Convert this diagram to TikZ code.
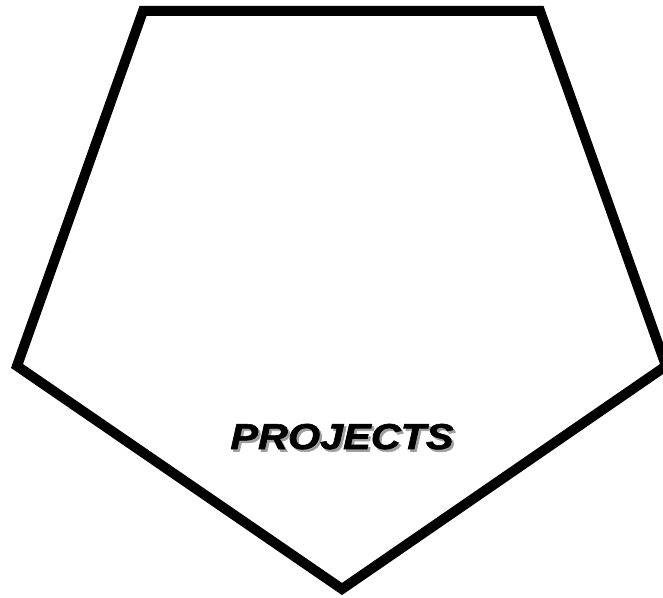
\documentclass[tikz,border=0pt]{standalone}
\usepackage{fontspec}
\newfontfamily\projfont[FakeBold=1.6]{Liberation Sans}
\usetikzlibrary{positioning, calc}
\definecolor{PJShadow}{RGB}{160, 160, 160}
\newcommand{\shadowed}[1]{\makebox[0pt][l]{\hspace{2pt}\raisebox{-2.5pt}{\color{PJShadow}#1}}#1}

\begin{document}
\begin{tikzpicture}[
  x=1pt, y=1pt,
  outline/.style={draw=black, line width=10pt, line join=miter},
  label/.style={font=\projfont\bfseries\itshape\fontsize{36}{36}\selectfont,
                anchor=base, xscale=1.15, inner sep=0pt}
]
  %% Frame
  \clip (0,0) rectangle (663,597);
  \useasboundingbox (0,0) rectangle (663,597);

  %% Corners
  \coordinate (topleft)  at (143,586);
  \coordinate (topright) at (540,586);
  \coordinate (right)    at (666,231);
  \coordinate (bottom)   at (342,8);
  \coordinate (left)     at (17,231);

  %% Pentagon
  \draw[outline] (topleft) -- (topright) -- (right) -- (bottom) -- (left) -- cycle;

  %% Title
  \node[label] (title) at (342,148) {\shadowed{PROJECTS}};
\end{tikzpicture}
\end{document}
